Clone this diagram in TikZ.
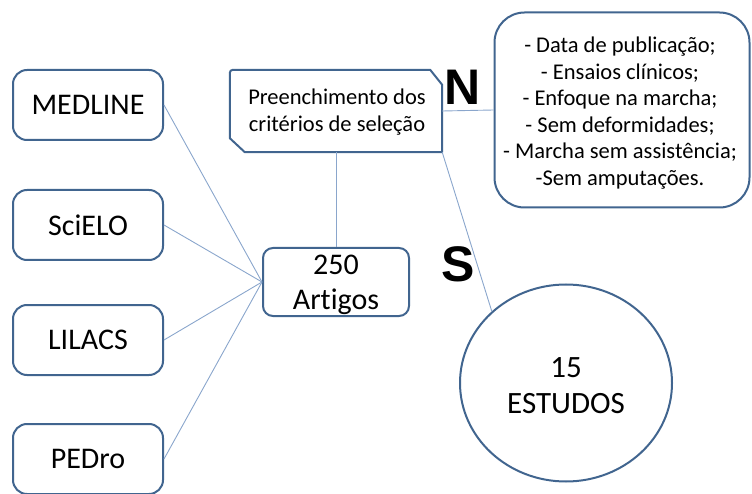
\documentclass[tikz,border=0pt]{standalone}
\usepackage{fontspec}
\setmainfont{Carlito}[Ligatures=NoCommon]
\newfontfamily\lettfont{Liberation Sans}
\usetikzlibrary{shapes.geometric}
\definecolor{edgeblue}{HTML}{41658F}
\definecolor{lineblue}{HTML}{8AA6CC}
\begin{document}
\begin{tikzpicture}[x=1pt,y=-1pt,
  dbbox/.style={draw=edgeblue,line width=2pt,fill=white,rounded corners=14pt,
    minimum width=150pt,minimum height=70pt,inner sep=0pt,font=\fontsize{30}{36}\selectfont},
  link/.style={draw=lineblue,line width=0.9pt},
  plaintext/.style={inner sep=0pt,align=center},
  bigletter/.style={font=\lettfont\bfseries\fontsize{50}{50}\selectfont,inner sep=0pt}]
\useasboundingbox (0,0) rectangle (752,494);
% sources
\node[dbbox] (med) at (88,105) {MEDLINE};
\node[dbbox] (sci) at (88,225) {SciELO};
\node[dbbox] (lil) at (88,340) {LILACS};
\node[dbbox] (ped) at (88,459) {PEDro};
% articles
\node[dbbox,rounded corners=10pt,minimum width=146pt,minimum height=68pt] (art) at (336,282) {};
\node[plaintext,font=\fontsize{30}{35}\selectfont] (artlabel) at (336,285) {250\\Artigos};
% criteria
\node[minimum width=212pt,minimum height=82pt,inner sep=0pt] (crit) at (336,111) {};
\draw[edgeblue,line width=2pt,fill=white,line join=round]
  ([yshift=14pt]crit.south west) -- ([yshift=-3pt]crit.north west)
  to[out=90,in=180] ([xshift=3pt]crit.north west)
  -- ([xshift=-12pt]crit.north east) -- ([yshift=-15pt]crit.north east)
  -- (crit.south east) -- ([xshift=15pt]crit.south west) -- cycle;
\node[plaintext,font=\fontsize{22.5}{27}\selectfont] (critlabel) at (337,112) {Preenchimento dos\\critérios de seleção};
% inclusion list
\node[draw=edgeblue,line width=2pt,fill=white,rounded corners=30pt,minimum width=255pt,
  minimum height=195pt,inner sep=0pt] (inc) at (622,110) {};
\node[plaintext,font=\fontsize{22.5}{26.6}\selectfont] (inclabel) at (620,113)
  {- Data de publicação;\\- Ensaios clínicos;\\- Enfoque na marcha;\\- Sem deformidades;\\- Marcha sem assistência;\\-Sem amputações.};
% studies
\node[ellipse,draw=edgeblue,line width=2pt,fill=white,minimum width=212pt,minimum height=197pt,
  inner sep=0pt] (est) at (566,383) {};
\node[plaintext,font=\fontsize{31}{36}\selectfont] (estlabel) at (566,386) {15\\ESTUDOS};
% letters
\node[bigletter] (n) at (463,87) {N};
\node[bigletter] (s) at (458,264) {S};
% links
\path[link] (med.east) -- (art.west);
\path[link] (sci.east) -- (art.west);
\path[link] (lil.east) -- (art.west);
\path[link] (ped.east) -- (art.west);
\path[link] (crit.south) -- (art.north);
\path[link] (crit.east) -- (inc.west);
\path[link] (crit.south east) -- (est.136);
\end{tikzpicture}
\end{document}
